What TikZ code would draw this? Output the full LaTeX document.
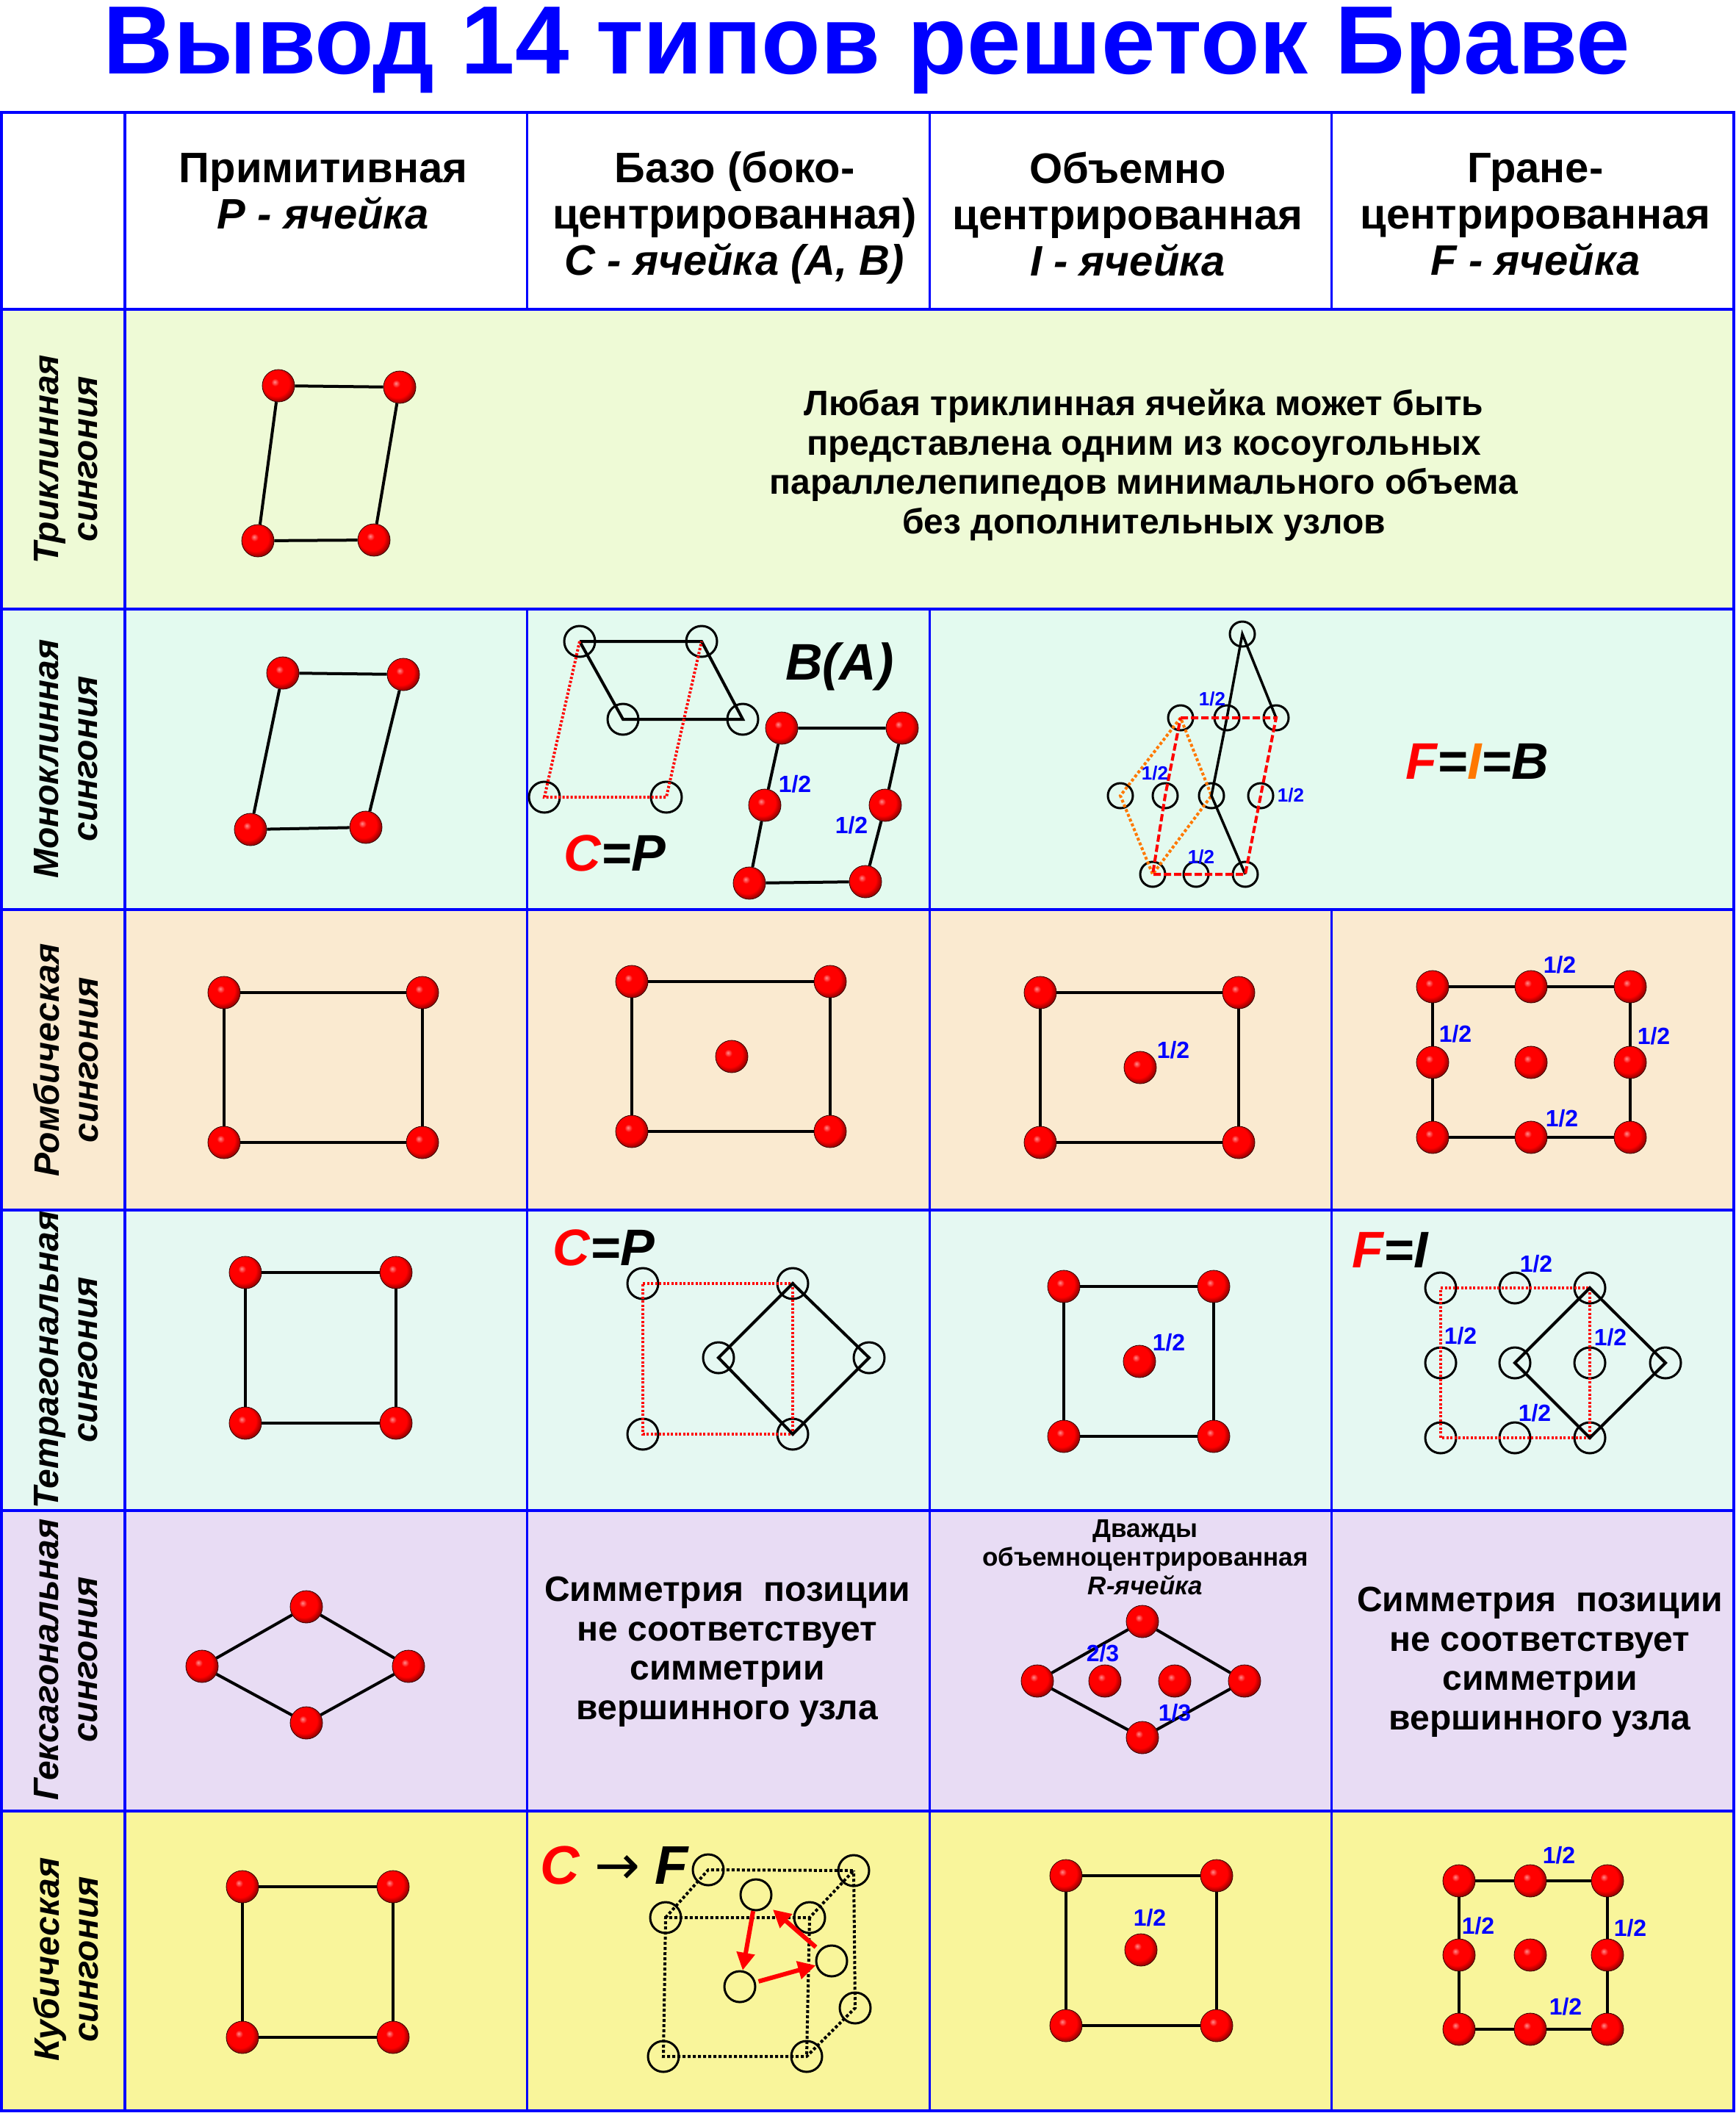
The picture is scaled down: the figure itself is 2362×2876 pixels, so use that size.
\documentclass[tikz,border=0pt]{standalone}
\usepackage{fontspec}
\setmainfont{Liberation Sans}
\newfontfamily\arrowfont{DejaVu Sans}
\usetikzlibrary{arrows.meta}

\definecolor{triclin}{RGB}{238,250,214}
\definecolor{monoclin}{RGB}{227,250,239}
\definecolor{rhomb}{RGB}{250,234,208}
\definecolor{tetra}{RGB}{229,248,242}
\definecolor{hexa}{RGB}{232,220,244}
\definecolor{cubic}{RGB}{249,245,155}
\definecolor{orng}{RGB}{255,120,0}
\pgfdeclareradialshading{atomball}{\pgfpoint{-6bp}{6bp}}{color(0bp)=(red!45!white); color(6bp)=(red); color(20bp)=(red); color(28bp)=(red!55!black); color(50bp)=(red!45!black)}

\begin{document}
\begin{tikzpicture}[x=1pt, y=-1pt, >=stealth,
  atom/.style={circle, inner sep=0pt, minimum size=44pt, shading=atomball, draw=red!20!black, line width=0.8pt},
  site/.style={circle, inner sep=0pt, minimum size=42pt, draw, line width=3pt},
  smallsite/.style={site, minimum size=34pt},
  bond/.style={line width=4pt},
  reddots/.style={red, line width=4pt, dash pattern=on 3pt off 2.5pt},
  reddash/.style={red, line width=4pt, dash pattern=on 10pt off 4pt},
  orangedots/.style={orng, line width=4pt, dash pattern=on 4pt off 3pt},
  blackdots/.style={line width=4pt, dash pattern=on 4pt off 3pt},
  redarrow/.style={red, line width=6pt, -{Triangle[length=24pt, width=24pt]}},
  grid/.style={blue, line width=3pt},
  fraclab/.style={text=blue, inner sep=0pt, font=\fontsize{32}{32}\selectfont\bfseries},
  smallfrac/.style={fraclab, font=\fontsize{26}{26}\selectfont\bfseries},
  biglab/.style={inner sep=0pt, anchor=base, font=\fontsize{70}{70}\selectfont\bfseries\itshape},
  cellhead/.style={inner sep=0pt, anchor=north, align=center, font=\fontsize{58}{63}\selectfont\bfseries},
  rowlab/.style={inner sep=0pt, rotate=90, align=center, font=\fontsize{48}{53}\selectfont\bfseries\itshape},
  note/.style={inner sep=0pt, align=center, font=\fontsize{48}{53.5}\selectfont\bfseries}]

\useasboundingbox (0,0) rectangle (2362,2876);
\fill[white] (0,0) rectangle (2362,2876);

% row colours
\fill[triclin] (0,421) rectangle (2362,829);
\fill[monoclin] (0,829) rectangle (2362,1238);
\fill[rhomb] (0,1238) rectangle (2362,1647);
\fill[tetra] (0,1647) rectangle (2362,2056);
\fill[hexa] (0,2056) rectangle (2362,2465);
\fill[cubic] (0,2465) rectangle (2362,2874);

% table lines
\draw[grid, line width=4pt] (2,153) rectangle (2360,2873);
\draw[grid, line width=4pt] (0,421) -- (2362,421);
\draw[grid, line width=4pt] (0,829) -- (2362,829);
\draw[grid, line width=4pt] (0,1238) -- (2362,1238);
\draw[grid, line width=4pt] (0,1647) -- (2362,1647);
\draw[grid, line width=4pt] (0,2056) -- (2362,2056);
\draw[grid, line width=4pt] (0,2465) -- (2362,2465);
\draw[grid, line width=4pt] (170,153) -- (170,2874);
\draw[grid] (717,153) -- (717,421);
\draw[grid] (717,829) -- (717,2874);
\draw[grid] (1265,153) -- (1265,421);
\draw[grid] (1265,829) -- (1265,2874);
\draw[grid] (1812,153) -- (1812,421);
\draw[grid] (1812,1238) -- (1812,2874);

% title and heads
\node[text=blue, inner sep=0pt, anchor=base, font=\fontsize{132}{132}\selectfont\bfseries] (title) at (1180,100) {Вывод 14 типов решеток Браве};
\node[cellhead] (hP) at (440,208) {Примитивная\\\textit{P - ячейка}};
\node[cellhead] (hC) at (1000,206) {Базо (боко-\\центрированная)\\\textit{C - ячейка (A, B)}};
\node[cellhead] (hI) at (1535,207) {Объемно\\центрированная\\\textit{I - ячейка}};
\node[cellhead] (hF) at (2090,208) {Гране-\\центрированная\\\textit{F - ячейка}};

\node[rowlab] (lTri) at (90,625) {Триклинная\\сингония};
\node[rowlab] (lMono) at (90,1033) {Моноклинная\\сингония};
\node[rowlab] (lRh) at (90,1443) {Ромбическая\\сингония};
\node[rowlab] (lTet) at (90,1851) {Тетрагональная\\сингония};
\node[rowlab] (lHex) at (90,2259) {Гексагональная\\сингония};
\node[rowlab] (lCub) at (90,2667) {Кубическая\\сингония};

% triclinic
\node[atom] (aP1) at (379,525) {};
\node[atom] (aP2) at (544,527) {};
\node[atom] (aP3) at (351,736) {};
\node[atom] (aP4) at (509,735) {};
\draw[bond] (aP1) -- (aP2) -- (aP4) -- (aP3) -- (aP1);
\node[note] (nTri) at (1557,633) {Любая триклинная ячейка может быть\\представлена одним из косоугольных\\параллелепипедов минимального объема\\без дополнительных узлов};

% monoclinic
\node[atom] (mP1) at (385,916) {};
\node[atom] (mP2) at (549,918) {};
\node[atom] (mP3) at (341,1129) {};
\node[atom] (mP4) at (498,1126) {};
\draw[bond] (mP1) -- (mP2) -- (mP4) -- (mP3) -- (mP1);

\node[site] (mc1) at (789,873) {};
\node[site] (mc2) at (955,873) {};
\node[site] (mc3) at (848,979) {};
\node[site] (mc4) at (1011,979) {};
\node[site] (mc5) at (741,1085) {};
\node[site] (mc6) at (907,1085) {};
\draw[bond] (mc1.center) -- (mc2.center) -- (mc4.center) -- (mc3.center) -- (mc1.center);
\draw[reddots] (mc1.center) -- (mc5.center) -- (mc6.center) -- (mc2.center);
\node[biglab] (mCP) at (837,1185) {\textcolor{red}{C}=P};

\node[atom] (mb1) at (1064,991) {};
\node[atom] (mb2) at (1228,991) {};
\node[atom] (mb3) at (1041,1096) {};
\node[atom] (mb4) at (1205,1096) {};
\node[atom] (mb5) at (1020,1202) {};
\node[atom] (mb6) at (1178,1200) {};
\draw[bond] (mb1) -- (mb2) -- (mb4) -- (mb6) -- (mb5) -- (mb3) -- (mb1);
\node[fraclab] (mh1) at (1082,1067) {1/2};
\node[fraclab] (mh2) at (1159,1123) {1/2};
\node[biglab] (mBA) at (1143,925) {B(A)};

\node[smallsite] (mi1) at (1691,863) {};
\node[smallsite] (mi2) at (1607,977) {};
\node[smallsite] (mi3) at (1670,977) {};
\node[smallsite] (mi4) at (1737,977) {};
\node[smallsite] (mi5) at (1525,1083) {};
\node[smallsite] (mi6) at (1586,1083) {};
\node[smallsite] (mi7) at (1649,1083) {};
\node[smallsite] (mi8) at (1716,1083) {};
\node[smallsite] (mi9) at (1569,1190) {};
\node[smallsite] (mi10) at (1628,1190) {};
\node[smallsite] (mi11) at (1695,1190) {};
\draw[orangedots] (mi2.center) -- (mi5.center) -- (mi9.center) -- (mi7.center) -- (mi2.center);
\draw[line width=3.5pt] (mi4.center) -- (mi1.center) -- (mi3.center) -- (mi7.center) -- (mi11.center);
\draw[reddash] (mi2.center) -- (mi4.center) -- (mi8.center) -- (mi11.center) -- (mi9.center) -- (mi6.center) -- cycle;
\node[smallfrac] (mih1) at (1650,951) {1/2};
\node[smallfrac] (mih2) at (1572,1052) {1/2};
\node[smallfrac] (mih3) at (1757,1082) {1/2};
\node[smallfrac] (mih4) at (1635,1166) {1/2};
\node[biglab] (mFIB) at (2011,1060) {\textcolor{red}{F}=\textcolor{orng}{I}=B};

% rhombic
\node[atom] (rP1) at (305,1351) {};
\node[atom] (rP2) at (575,1351) {};
\node[atom] (rP3) at (305,1555) {};
\node[atom] (rP4) at (575,1555) {};
\draw[bond] (rP1) -- (rP2) -- (rP4) -- (rP3) -- (rP1);

\node[atom] (rC1) at (860,1336) {};
\node[atom] (rC2) at (1130,1336) {};
\node[atom] (rC3) at (860,1540) {};
\node[atom] (rC4) at (1130,1540) {};
\node[atom] (rC5) at (996,1438) {};
\draw[bond] (rC1) -- (rC2) -- (rC4) -- (rC3) -- (rC1);

\node[atom] (rI1) at (1416,1351) {};
\node[atom] (rI2) at (1686,1351) {};
\node[atom] (rI3) at (1416,1555) {};
\node[atom] (rI4) at (1686,1555) {};
\node[atom] (rI5) at (1552,1453) {};
\draw[bond] (rI1) -- (rI2) -- (rI4) -- (rI3) -- (rI1);
\node[fraclab] (rIh) at (1597,1429) {1/2};

\node[atom] (rF1) at (1950,1343) {};
\node[atom] (rF2) at (2084,1343) {};
\node[atom] (rF3) at (2219,1343) {};
\node[atom] (rF4) at (1950,1446) {};
\node[atom] (rF5) at (2084,1446) {};
\node[atom] (rF6) at (2219,1446) {};
\node[atom] (rF7) at (1950,1548) {};
\node[atom] (rF8) at (2084,1548) {};
\node[atom] (rF9) at (2219,1548) {};
\draw[bond] (rF1) -- (rF2) -- (rF3) -- (rF6) -- (rF9) -- (rF8) -- (rF7) -- (rF4) -- (rF1);
\node[fraclab] (rFh1) at (2123,1313) {1/2};
\node[fraclab] (rFh2) at (1981,1407) {1/2};
\node[fraclab] (rFh3) at (2251,1410) {1/2};
\node[fraclab] (rFh4) at (2126,1522) {1/2};

% tetragonal
\node[atom] (tP1) at (334,1732) {};
\node[atom] (tP2) at (539,1732) {};
\node[atom] (tP3) at (334,1937) {};
\node[atom] (tP4) at (539,1937) {};
\draw[bond] (tP1) -- (tP2) -- (tP4) -- (tP3) -- (tP1);

\node[site] (tc1) at (875,1747) {};
\node[site] (tc2) at (1079,1747) {};
\node[site] (tc3) at (875,1952) {};
\node[site] (tc4) at (1079,1952) {};
\node[site] (tc5) at (978,1848) {};
\node[site] (tc6) at (1183,1848) {};
\draw[reddots] (tc1.center) -- (tc2.center) -- (tc4.center) -- (tc3.center) -- cycle;
\draw[bond] (tc2.center) -- (tc6.center) -- (tc4.center) -- (tc5.center) -- cycle;
\node[biglab] (tCP) at (822,1722) {\textcolor{red}{C}=P};

\node[atom] (tI1) at (1448,1751) {};
\node[atom] (tI2) at (1652,1751) {};
\node[atom] (tI3) at (1448,1955) {};
\node[atom] (tI4) at (1652,1955) {};
\node[atom] (tI5) at (1551,1853) {};
\draw[bond] (tI1) -- (tI2) -- (tI4) -- (tI3) -- (tI1);
\node[fraclab] (tIh) at (1591,1827) {1/2};

\node[site] (tf1) at (1961,1753) {};
\node[site] (tf2) at (2062,1753) {};
\node[site] (tf3) at (2164,1753) {};
\node[site] (tf4) at (1961,1855) {};
\node[site] (tf5) at (2062,1855) {};
\node[site] (tf6) at (2164,1855) {};
\node[site] (tf7) at (2267,1855) {};
\node[site] (tf8) at (1961,1957) {};
\node[site] (tf9) at (2062,1957) {};
\node[site] (tf10) at (2164,1957) {};
\draw[reddots] (tf1.center) -- (tf3.center) -- (tf10.center) -- (tf8.center) -- cycle;
\draw[bond] (tf3.center) -- (tf7.center) -- (tf10.center) -- (tf5.center) -- cycle;
\node[fraclab] (tFh1) at (2091,1720) {1/2};
\node[fraclab] (tFh2) at (1988,1818) {1/2};
\node[fraclab] (tFh3) at (2192,1820) {1/2};
\node[fraclab] (tFh4) at (2089,1923) {1/2};
\node[biglab] (tFI) at (1892,1725) {\textcolor{red}{F}=I};

% hexagonal
\node[atom] (hP1) at (417,2187) {};
\node[atom] (hP2) at (275,2268) {};
\node[atom] (hP3) at (556,2268) {};
\node[atom] (hP4) at (417,2345) {};
\draw[bond] (hP1) -- (hP3) -- (hP4) -- (hP2) -- (hP1);
\node[note] (nHexC) at (990,2248) {Симметрия~~позиции\\не соответствует\\симметрии\\вершинного узла};

\node[inner sep=0pt, anchor=north, align=center, font=\fontsize{35}{39}\selectfont\bfseries] (hRt) at (1559,2068) {Дважды\\объемноцентрированная\\\textit{R-ячейка}};
\node[atom] (hR1) at (1555,2207) {};
\node[atom] (hR2) at (1412,2288) {};
\node[atom] (hR3) at (1694,2288) {};
\node[atom] (hR4) at (1555,2365) {};
\node[atom] (hR5) at (1504,2288) {};
\node[atom] (hR6) at (1599,2288) {};
\draw[bond] (hR1) -- (hR3) -- (hR4) -- (hR2) -- (hR1);
\node[fraclab] (hRh1) at (1501,2250) {2/3};
\node[fraclab] (hRh2) at (1599,2331) {1/3};
\node[note] (nHexF) at (2096,2262) {Симметрия~~позиции\\не соответствует\\симметрии\\вершинного узла};

% cubic
\node[atom] (cP1) at (330,2568) {};
\node[atom] (cP2) at (535,2568) {};
\node[atom] (cP3) at (330,2773) {};
\node[atom] (cP4) at (535,2773) {};
\draw[bond] (cP1) -- (cP2) -- (cP4) -- (cP3) -- (cP1);

\node[site] (cf1) at (964,2545) {};
\node[site] (cf2) at (1162,2546) {};
\node[site] (cf3) at (906,2610) {};
\node[site] (cf4) at (1102,2610) {};
\node[site] (cf5) at (1029,2579) {};
\node[site] (cf6) at (1132,2669) {};
\node[site] (cf7) at (1007,2704) {};
\node[site] (cf8) at (1164,2733) {};
\node[site] (cf9) at (903,2799) {};
\node[site] (cf10) at (1098,2799) {};
\draw[blackdots] (cf3.center) -- (cf1.center) -- (cf2.center) -- (cf4.center) -- (cf3.center) -- (cf9.center) -- (cf10.center) -- (cf8.center) -- (cf2.center);
\draw[blackdots] (cf4.center) -- (cf10.center);
\draw[redarrow] (cf5) -- (cf7);
\draw[redarrow, shorten <=6pt, shorten >=8pt] (cf6) -- (cf5);
\draw[redarrow, shorten <=4pt] (cf7) -- (cf6);
\node[biglab, font=\fontsize{74}{74}\selectfont\bfseries\itshape] (cCF) at (836,2564) {\textcolor{red}{C} {\arrowfont\mdseries\upshape →} F};

\node[atom] (cI1) at (1451,2553) {};
\node[atom] (cI2) at (1656,2553) {};
\node[atom] (cI3) at (1451,2757) {};
\node[atom] (cI4) at (1656,2757) {};
\node[atom] (cI5) at (1553,2654) {};
\draw[bond] (cI1) -- (cI2) -- (cI4) -- (cI3) -- (cI1);
\node[fraclab] (cIh) at (1565,2610) {1/2};

\node[atom] (cF1) at (1986,2560) {};
\node[atom] (cF2) at (2083,2560) {};
\node[atom] (cF3) at (2188,2560) {};
\node[atom] (cF4) at (1986,2661) {};
\node[atom] (cF5) at (2083,2661) {};
\node[atom] (cF6) at (2188,2661) {};
\node[atom] (cF7) at (1986,2762) {};
\node[atom] (cF8) at (2083,2762) {};
\node[atom] (cF9) at (2188,2762) {};
\draw[bond] (cF1) -- (cF2) -- (cF3) -- (cF6) -- (cF9) -- (cF8) -- (cF7) -- (cF4) -- (cF1);
\node[fraclab] (cFh1) at (2122,2525) {1/2};
\node[fraclab] (cFh2) at (2012,2621) {1/2};
\node[fraclab] (cFh3) at (2219,2624) {1/2};
\node[fraclab] (cFh4) at (2131,2731) {1/2};
\end{tikzpicture}
\end{document}
